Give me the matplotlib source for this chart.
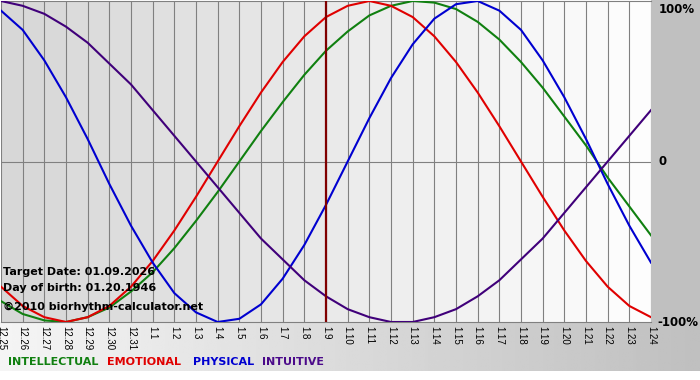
import numpy as np
import matplotlib.pyplot as plt
from matplotlib.patches import Rectangle
from matplotlib.transforms import blended_transform_factory

# days shown on the chart
days = ['12.25', '12.26', '12.27', '12.28', '12.29', '12.30', '12.31',
        '1.1', '1.2', '1.3', '1.4', '1.5', '1.6', '1.7', '1.8', '1.9', '1.10',
        '1.11', '1.12', '1.13', '1.14', '1.15', '1.16', '1.17', '1.18', '1.19',
        '1.20', '1.21', '1.22', '1.23', '1.24']
target_day = '1.9'

# cycle values (-1 .. 1)
intellectual = [-0.87, -0.95, -0.99, -1.00, -0.97, -0.91, -0.81, -0.69, -0.54, -0.37,
                -0.19, 0.00, 0.19, 0.37, 0.54, 0.69, 0.81, 0.91, 0.97, 1.00,
                0.99, 0.95, 0.87, 0.76, 0.62, 0.46, 0.28, 0.10, -0.10, -0.28, -0.46]
emotional = [-0.78, -0.90, -0.97, -1.00, -0.97, -0.90, -0.78, -0.62, -0.43, -0.22,
             0.00, 0.22, 0.43, 0.62, 0.78, 0.90, 0.97, 1.00, 0.97, 0.90,
             0.78, 0.62, 0.43, 0.22, 0.00, -0.22, -0.43, -0.62, -0.78, -0.90, -0.97]
physical = [0.94, 0.82, 0.63, 0.40, 0.14, -0.14, -0.40, -0.63, -0.82, -0.94,
            -1.00, -0.98, -0.89, -0.73, -0.52, -0.27, 0.00, 0.27, 0.52, 0.73,
            0.89, 0.98, 1.00, 0.94, 0.82, 0.63, 0.40, 0.14, -0.14, -0.40, -0.63]
intuitive = [1.00, 0.97, 0.92, 0.84, 0.74, 0.61, 0.48, 0.32, 0.16, 0.00,
             -0.16, -0.32, -0.48, -0.61, -0.74, -0.84, -0.92, -0.97, -1.00, -1.00,
             -0.97, -0.92, -0.84, -0.74, -0.61, -0.48, -0.32, -0.16, 0.00, 0.16, 0.32]

W, H = 700, 380
fig = plt.figure(figsize=(W / 100, H / 100), dpi=100)
fig.patch.set_facecolor('white')

# background pieces in pixel coords
bg = fig.add_axes([0, 0, 1, 1])
strip = np.linspace(0.96, 0.75, 256)
bg.imshow(np.tile(strip, (2, 1)), cmap='gray', vmin=0, vmax=1,
          extent=(0, W, 371, 322), aspect='auto')
bg.add_patch(Rectangle((651, 0), W - 651, 322, color='#c0c0c0'))
bg.set_xlim(0, W)
bg.set_ylim(H, 0)
bg.axis('off')

ax = fig.add_axes([1 / W, (H - 322) / H, 650 / W, 321 / H])
x = np.arange(len(days))
shade = np.linspace(0.84, 0.99, len(days) - 1)
ax.imshow(shade[np.newaxis, :], cmap='gray', vmin=0, vmax=1,
          extent=(0, len(days) - 1, -1, 1), aspect='auto', interpolation='nearest', zorder=0)

for xi in x:
    ax.axvline(xi, color='#808080', lw=0.8, zorder=1)
ax.axhline(0, color='#808080', lw=0.8, zorder=1)

ax.plot(x, intellectual, color='#108010', lw=1.5, zorder=3)
ax.plot(x, emotional, color='#e00000', lw=1.5, zorder=3)
ax.plot(x, physical, color='#0000d0', lw=1.5, zorder=3)
ax.plot(x, intuitive, color='#40007a', lw=1.5, zorder=3)
ax.axvline(days.index(target_day), color='#800000', lw=1.6, zorder=4)

ax.set_xlim(0, len(days) - 1)
ax.set_ylim(-1, 1)
for side in ['left', 'right']:
    ax.spines[side].set_visible(False)
for side in ['top', 'bottom']:
    ax.spines[side].set_color('#808080')
    ax.spines[side].set_linewidth(0.8)
ax.set_yticks([])
ax.set_xticks(x, days, rotation=270, fontsize=7, family='Liberation Sans')
ax.tick_params(axis='x', length=0, pad=3)

tr = blended_transform_factory(ax.transAxes, ax.transData)
ax.text(1.012, 0.99, '100%', transform=tr, fontsize=8.5, fontweight='bold', va='top')
ax.text(1.012, 0, '0', transform=tr, fontsize=8.5, fontweight='bold', va='center')
ax.text(1.01, -1, '-100%', transform=tr, fontsize=8.5, fontweight='bold', va='center')

info = ['Target Date: 01.09.2026', 'Day of birth: 01.20.1946', '\u00a92010 biorhythm-calculator.net']
for txt, yp in zip(info, [272, 288, 307]):
    fig.text(3 / W, 1 - yp / H, txt, fontsize=8, fontweight='bold', va='center', zorder=2)

legend = [('INTELLECTUAL', '#108010', 8), ('EMOTIONAL', '#e00000', 107),
          ('PHYSICAL', '#0000d0', 193), ('INTUITIVE', '#4b0a8a', 262)]
for name, col, xp in legend:
    fig.text(xp / W, 1 - 362 / H, name, color=col, fontsize=8, fontweight='bold', va='center')

fig.savefig('out.png', dpi=100)
